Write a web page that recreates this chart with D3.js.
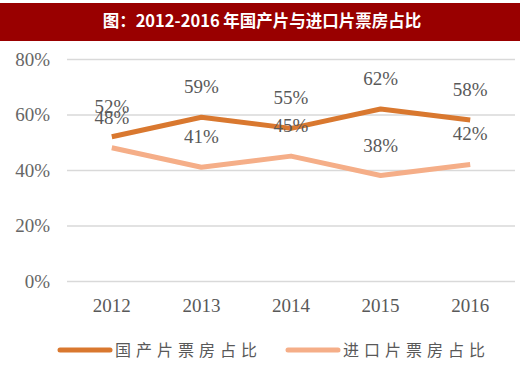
<!DOCTYPE html>
<html><head><meta charset="utf-8">
<script src="https://cdn.jsdelivr.net/npm/d3@7"></script>
<style>body{margin:0;background:#fff}svg{display:block}</style>
</head><body>
<svg id="c" width="520" height="365"></svg>
<script>
const title = "图：2012-2016 年国产片与进口片票房占比";
const years = ["2012","2013","2014","2015","2016"];
const domestic = [52,59,55,62,58];
const imported = [48,41,45,38,42];
const yTicks = [0,20,40,60,80];
const seriesNames = ["国产片票房占比","进口片票房占比"];
const colors = ["#d9782f","#f5ae88"];

const svg = d3.select("#c");
const serif = "'Liberation Serif','DejaVu Serif',serif";
svg.append("rect").attr("x",0).attr("y",3).attr("width",520).attr("height",38).attr("fill","#990000");
svg.append("text").attr("x",262).attr("y",27).attr("text-anchor","middle")
  .attr("fill","#fff").attr("font-size",16.5).attr("font-weight","bold")
  .attr("font-family","'Noto Sans CJK SC',serif").text(title);

const x = d3.scaleBand().domain(years).range([67,515]);
const y = d3.scaleLinear().domain([0,80]).range([281,59]);

const ya = svg.append("g").attr("transform","translate(67,0)")
  .call(d3.axisLeft(y).tickValues(yTicks).tickSize(-448).tickFormat(d=>d+"%"));
ya.select(".domain").remove();
ya.selectAll(".tick line").attr("stroke","#d9d9d9").attr("stroke-width",1.5);
ya.selectAll(".tick text").attr("x",-17).attr("fill","#666").attr("font-size",19).attr("font-family",serif);

const xa = svg.append("g").attr("transform","translate(0,281)")
  .call(d3.axisBottom(x).tickSize(0));
xa.select(".domain").remove();
xa.selectAll(".tick text").attr("dy",0).attr("y",31).attr("fill","#595959").attr("font-size",19).attr("font-family",serif);

const line = d3.line().x((d,i)=>x(years[i])+x.bandwidth()/2).y(d=>y(d));
[imported, domestic].forEach((s,k)=>{
  const c = k===0?colors[1]:colors[0];
  svg.append("path").datum(s).attr("d",line).attr("fill","none").attr("stroke",c).attr("stroke-width",5).attr("stroke-linejoin","round");
});
[domestic, imported].forEach(s=>{
  svg.append("g").selectAll("text").data(s).join("text")
    .attr("x",(d,i)=>x(years[i])+x.bandwidth()/2)
    .attr("y",d=>y(d)-24)
    .attr("text-anchor","middle").attr("fill","#595959").attr("font-size",19).attr("font-family",serif)
    .text(d=>d+"%");
});

const lg = [{x:60,tx:115},{x:288,tx:343}];
seriesNames.forEach((n,i)=>{
  svg.append("line").attr("x1",lg[i].x).attr("x2",lg[i].x+50).attr("y1",350).attr("y2",350)
    .attr("stroke",colors[i]).attr("stroke-width",5).attr("stroke-linecap","round");
  svg.append("text").attr("x",lg[i].tx).attr("y",356).attr("fill","#595959").attr("font-size",16)
    .attr("letter-spacing",5).attr("font-family","'Noto Sans CJK SC',serif").text(n);
});
</script>
</body></html>
